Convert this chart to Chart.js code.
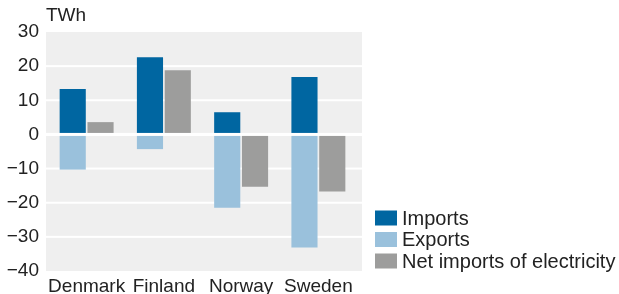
<!DOCTYPE html>
<html><head><meta charset="utf-8">
<script src="https://cdn.jsdelivr.net/npm/chart.js@4/dist/chart.umd.min.js"></script>
<style>html,body{margin:0;padding:0;background:#fff}#wrap{width:619px;height:294px;position:relative}</style>
</head><body><div id="wrap"><canvas id="c"></canvas></div>
<script>
const categories = ['Denmark', 'Finland', 'Norway', 'Sweden'];
const importsTWh = [13.3, 22.6, 6.5, 16.8];
const exportsTWh = [-10.3, -4.3, -21.5, -33.1];
const netImportsTWh = [3.6, 18.8, -15.3, -16.7];
const yTicks = [30, 20, 10, 0, -10, -20, -30, -40];
const unitLabel = 'TWh';

const FONT = "'Liberation Sans', Arial, sans-serif";
const FS = 19;
const TXT = '#222';
// plot panel extends a little beyond the category area
const PANEL_PAD_L = 2, PANEL_PAD_R = 5;

const bgPlugin = {
  id: 'bg',
  beforeDatasetsDraw(chart) {
    const {ctx, chartArea: a, scales} = chart;
    const x0 = a.left - PANEL_PAD_L, x1 = a.right + PANEL_PAD_R;
    ctx.save();
    ctx.fillStyle = '#efefef';
    ctx.fillRect(x0, a.top, x1 - x0, a.bottom - a.top);
    ctx.fillStyle = '#ffffff';
    scales.y.ticks.forEach(t => {
      if (t.value === 30 || t.value === -40) return;
      const y = scales.y.getPixelForValue(t.value);
      ctx.fillRect(x0, y - 1, x1 - x0, 2);
    });
    ctx.restore();
  },
  afterDatasetsDraw(chart) {
    const {ctx, chartArea: a, scales} = chart;
    const x0 = a.left - PANEL_PAD_L, x1 = a.right + PANEL_PAD_R;
    const y0 = scales.y.getPixelForValue(0);
    ctx.save();
    ctx.fillStyle = '#ffffff';
    ctx.fillRect(x0, y0 - 1.5, x1 - x0, 3);
    ctx.restore();
  },
  afterDraw(chart) {
    const {ctx, chartArea: a} = chart;
    const x0 = a.left - PANEL_PAD_L, x1 = a.right + PANEL_PAD_R;
    ctx.save();
    ctx.font = FS + 'px ' + FONT;
    ctx.fillStyle = TXT;
    ctx.textBaseline = 'middle';
    ctx.textAlign = 'left';
    ctx.fillText(unitLabel, x0, 16);
    // legend, bottom-aligned to the right of the plot
    ctx.font = '20px ' + FONT;
    const ds = chart.data.datasets;
    const boxX = x1 + 13, boxW = 22, boxH = 15, step = 21.5;
    const lastY = a.bottom - 10;
    ds.forEach((d, i) => {
      const cy = lastY - (ds.length - 1 - i) * step;
      ctx.fillStyle = d.backgroundColor;
      ctx.fillRect(boxX, cy - boxH / 2, boxW, boxH);
      ctx.fillStyle = TXT;
      ctx.fillText(d.label, boxX + boxW + 5, cy + 1);
    });
    ctx.restore();
  }
};

new Chart(document.getElementById('c'), {
  type: 'bar',
  data: {
    labels: categories,
    datasets: [
      {label: 'Imports', data: importsTWh, backgroundColor: '#0066a1', stack: 'a'},
      {label: 'Exports', data: exportsTWh, backgroundColor: '#9ac1dc', stack: 'a'},
      {label: 'Net imports of electricity', data: netImportsTWh, backgroundColor: '#9d9d9c', stack: 'b'}
    ]
  },
  options: {
    responsive: true,
    maintainAspectRatio: false,
    animation: false,
    devicePixelRatio: 1,
    layout: {padding: {top: 32, right: 262, left: 0, bottom: 0}},
    datasets: {bar: {categoryPercentage: 0.72, barPercentage: 0.94}},
    plugins: {
      tooltip: {enabled: false},
      legend: {display: false}
    },
    scales: {
      x: {
        stacked: true,
        grid: {display: false, drawTicks: false},
        border: {display: false},
        ticks: {color: TXT, font: {family: FONT, size: FS}, padding: 4, maxRotation: 0, minRotation: 0, autoSkip: false},
        afterFit(s) { s.height = 23; }
      },
      y: {
        stacked: true,
        min: -40, max: 30,
        afterBuildTicks(s) { s.ticks = yTicks.map(v => ({value: v})); },
        grid: {display: false, drawTicks: false},
        border: {display: false},
        ticks: {
          color: TXT, font: {family: FONT, size: FS}, padding: 9,
          callback: v => (v < 0 ? '\u2212' + Math.abs(v) : String(v))
        },
        afterFit(s) { s.width = 48; }
      }
    }
  },
  plugins: [bgPlugin]
});
</script></body></html>
